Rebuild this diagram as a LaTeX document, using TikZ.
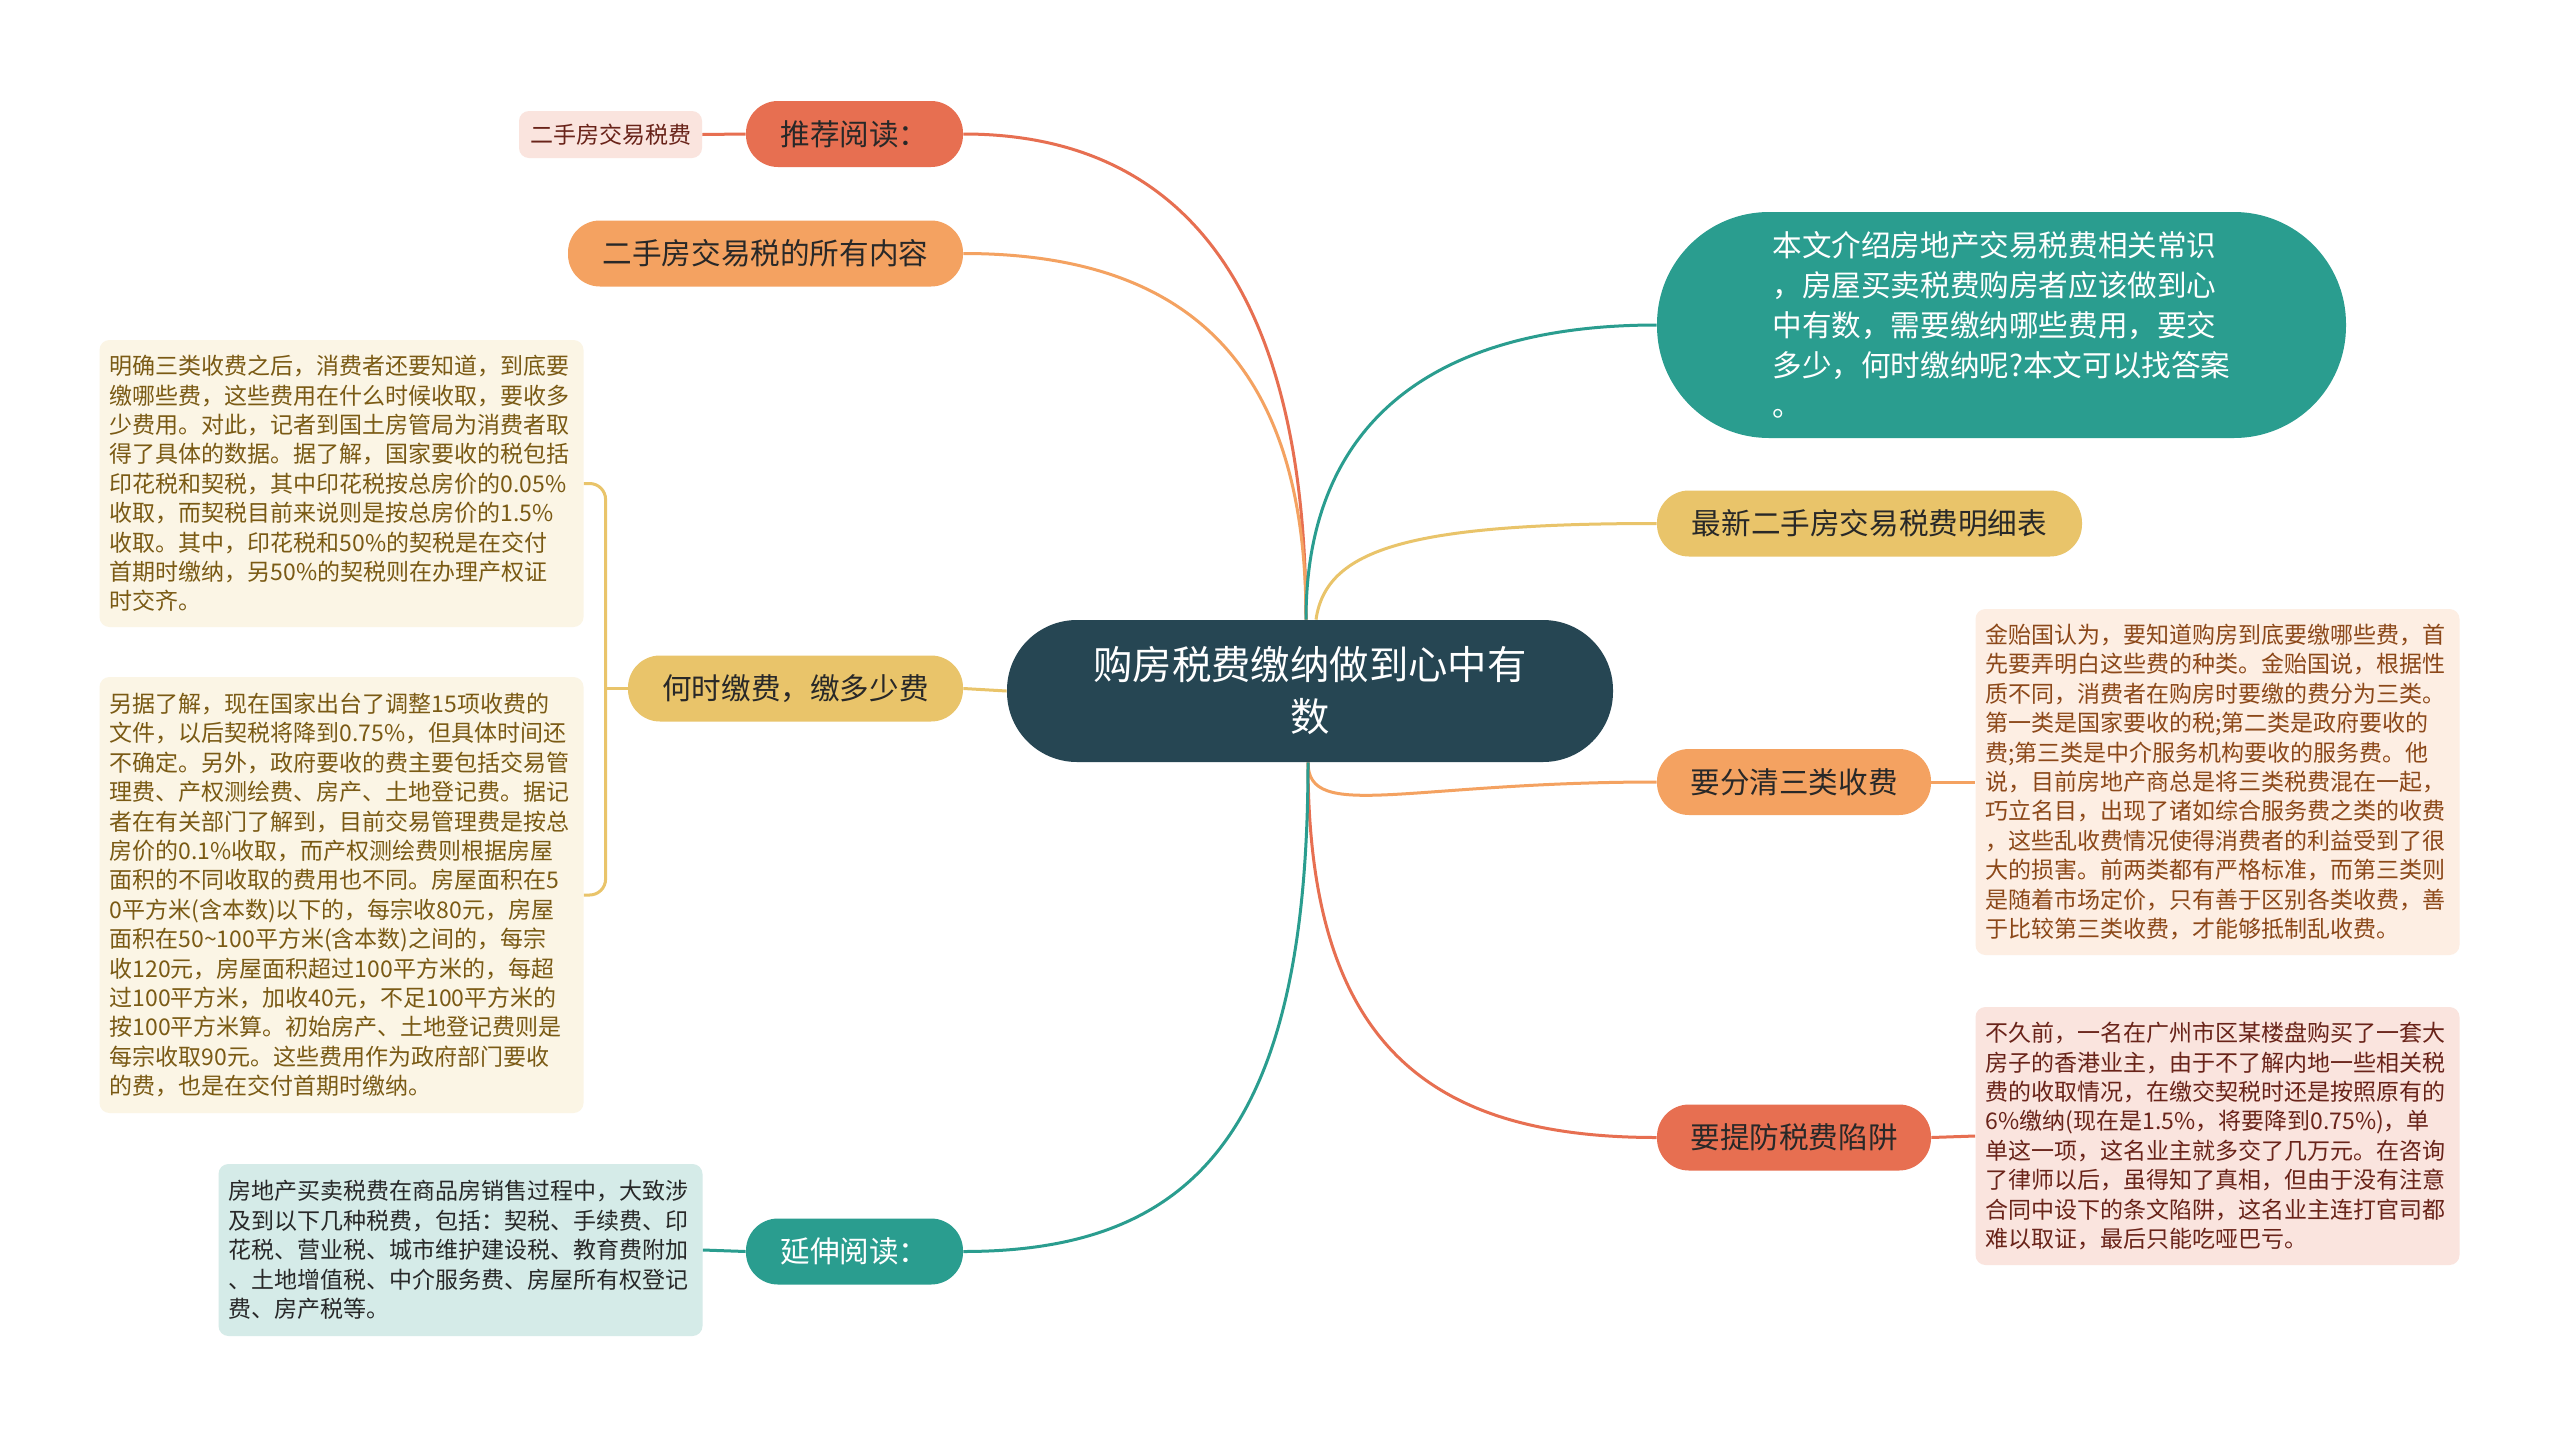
\documentclass[tikz,border=0pt]{standalone}
\usepackage{fontspec}
\setmainfont{Noto Sans CJK SC}
\usepackage{xcolor}
\definecolor{mydark}{RGB}{38,70,83}
\definecolor{myred}{RGB}{231,111,81}
\definecolor{myorange}{RGB}{244,162,97}
\definecolor{myyellow}{RGB}{233,196,106}
\definecolor{myteal}{RGB}{42,157,143}
\definecolor{redleaf}{RGB}{250,228,222}
\definecolor{orangeleaf}{RGB}{253,238,227}
\definecolor{yellowleaf}{RGB}{251,245,229}
\definecolor{tealleaf}{RGB}{213,235,232}
\definecolor{redtext}{RGB}{105,35,25}
\definecolor{orangetext}{RGB}{140,72,25}
\definecolor{yellowtext}{RGB}{122,90,20}
\definecolor{darktext}{RGB}{40,40,40}

\tikzset{
  topic/.style={fill=mydark, text=white, rounded corners=35pt, minimum width=303pt,
    minimum height=71pt, align=center, font=\fontsize{19.7}{26}\selectfont},
  branchbox/.style={rounded corners=16pt, minimum height=33pt, inner xsep=0pt,
    text=darktext, font=\fontsize{14.8}{20}\selectfont},
  leafbox/.style={rounded corners=5pt, align=left, inner xsep=5pt, text width=232pt,
    font=\fontsize{11.5}{14.7}\selectfont},
  link/.style={line width=1.5pt},
}

\begin{document}
\begin{tikzpicture}[x=0.5pt,y=-0.5pt]
  \fill[white] (0,0) rectangle (2560,1435);
  \useasboundingbox (0,0) rectangle (2560,1435);

  % centre
  \node[topic] (main) at (1310,691) {购房税费缴纳做到心中有\\数};

  % left branches
  \node[branchbox, fill=myred, minimum width=108.5pt] (tj) at (854.5,134) {推荐阅读：};
  \node[leafbox, fill=redleaf, text=redtext, text width=, align=center,
    minimum width=91.5pt, minimum height=23.5pt] (tjl) at (610.5,134.5) {二手房交易税费};
  \node[branchbox, fill=myorange, minimum width=197.5pt] (sy) at (765.5,253.5) {二手房交易税的所有内容};
  \node[branchbox, fill=myyellow, minimum width=167.5pt] (hs) at (795.5,688.5) {何时缴费，缴多少费};
  \node[leafbox, fill=yellowleaf, text=yellowtext, minimum height=143.5pt] (hs1) at (341.5,483.5) {%
明确三类收费之后，消费者还要知道，到底要\\%
缴哪些费，这些费用在什么时候收取，要收多\\%
少费用。对此，记者到国土房管局为消费者取\\%
得了具体的数据。据了解，国家要收的税包括\\%
印花税和契税，其中印花税按总房价的0.05\%\\%
收取，而契税目前来说则是按总房价的1.5\%\\%
收取。其中，印花税和50\%的契税是在交付\\%
首期时缴纳，另50\%的契税则在办理产权证\\%
时交齐。};
  \node[leafbox, fill=yellowleaf, text=yellowtext, minimum height=218pt] (hs2) at (341.5,895) {%
另据了解，现在国家出台了调整15项收费的\\%
文件，以后契税将降到0.75\%，但具体时间还\\%
不确定。另外，政府要收的费主要包括交易管\\%
理费、产权测绘费、房产、土地登记费。据记\\%
者在有关部门了解到，目前交易管理费是按总\\%
房价的0.1\%收取，而产权测绘费则根据房屋\\%
面积的不同收取的费用也不同。房屋面积在5\\%
0平方米(含本数)以下的，每宗收80元，房屋\\%
面积在50\textasciitilde100平方米(含本数)之间的，每宗\\%
收120元，房屋面积超过100平方米的，每超\\%
过100平方米，加收40元，不足100平方米的\\%
按100平方米算。初始房产、土地登记费则是\\%
每宗收取90元。这些费用作为政府部门要收\\%
的费，也是在交付首期时缴纳。};
  \node[branchbox, fill=myteal, text=white, minimum width=108.5pt] (ys) at (854.5,1251.5) {延伸阅读：};
  \node[leafbox, fill=tealleaf, text=darktext, minimum height=86pt] (ysl) at (460.5,1250) {%
房地产买卖税费在商品房销售过程中，大致涉\\%
及到以下几种税费，包括：契税、手续费、印\\%
花税、营业税、城市维护建设税、教育费附加\\%
、土地增值税、中介服务费、房屋所有权登记\\%
费、房产税等。};

  % right branches
  \node[branchbox, fill=myteal, text=white, rounded corners=56pt, minimum width=344.5pt,
    minimum height=113pt, align=left] (intro) at (2001.5,325) {%
本文介绍房地产交易税费相关常识\\%
，房屋买卖税费购房者应该做到心\\%
中有数，需要缴纳哪些费用，要交\\%
多少，何时缴纳呢?本文可以找答案\\%
。};
  \node[branchbox, fill=myyellow, minimum width=212.5pt] (zx) at (1869.5,523.5) {最新二手房交易税费明细表};
  \node[branchbox, fill=myorange, minimum width=137pt] (sl) at (1794,782) {要分清三类收费};
  \node[leafbox, fill=orangeleaf, text=orangetext, minimum height=173pt] (sll) at (2217.5,782) {%
金贻国认为，要知道购房到底要缴哪些费，首\\%
先要弄明白这些费的种类。金贻国说，根据性\\%
质不同，消费者在购房时要缴的费分为三类。\\%
第一类是国家要收的税;第二类是政府要收的\\%
费;第三类是中介服务机构要收的服务费。他\\%
说，目前房地产商总是将三类税费混在一起，\\%
巧立名目，出现了诸如综合服务费之类的收费\\%
，这些乱收费情况使得消费者的利益受到了很\\%
大的损害。前两类都有严格标准，而第三类则\\%
是随着市场定价，只有善于区别各类收费，善\\%
于比较第三类收费，才能够抵制乱收费。};
  \node[branchbox, fill=myred, minimum width=137pt] (xj) at (1794,1137.5) {要提防税费陷阱};
  \node[leafbox, fill=redleaf, text=redtext, minimum height=129pt] (xjl) at (2217.5,1136) {%
不久前，一名在广州市区某楼盘购买了一套大\\%
房子的香港业主，由于不了解内地一些相关税\\%
费的收取情况，在缴交契税时还是按照原有的\\%
6\%缴纳(现在是1.5\%，将要降到0.75\%)，单\\%
单这一项，这名业主就多交了几万元。在咨询\\%
了律师以后，虽得知了真相，但由于没有注意\\%
合同中设下的条文陷阱，这名业主连打官司都\\%
难以取证，最后只能吃哑巴亏。};

  % connectors from the centre
  \coordinate (mtop) at ([xshift=-2pt]main.north);
  \coordinate (mbot) at ([xshift=-1pt]main.south);
  \draw[link,myred] (mtop) .. controls +(0,-330) and +(220,0) .. (tj.east);
  \draw[link,myorange] (mtop) .. controls +(0,-250) and +(230,0) .. (sy.east);
  \draw[link,myteal] (mtop) .. controls +(0,-200) and +(-220,0) .. (intro.west);
  \draw[link,myyellow] ([xshift=3pt]main.north) .. controls +(10,-70) and +(-250,0) .. (zx.west);
  \draw[link,myyellow] (main.west) -- (hs.east);
  \draw[link,myorange] (mbot) .. controls +(0,60) and +(-250,0) .. (sl.west);
  \draw[link,myred] (mbot) .. controls +(0,280) and +(-230,0) .. (xj.west);
  \draw[link,myteal] (mbot) .. controls +(0,370) and +(230,0) .. (ys.east);

  % connectors to the leaves
  \draw[link,myred] (tj.west) -- (tjl.east);
  \draw[link,myyellow] (hs.west) -- ++(-22,0) coordinate (hsb);
  \draw[link,myyellow,rounded corners=8pt] (hs1.east) -| (hsb) |- (hs2.east);
  \draw[link,myteal] (ys.west) -- (ysl.east);
  \draw[link,myorange] (sl.east) -- (sll.west);
  \draw[link,myred] (xj.east) -- (xjl.west);
\end{tikzpicture}
\end{document}
